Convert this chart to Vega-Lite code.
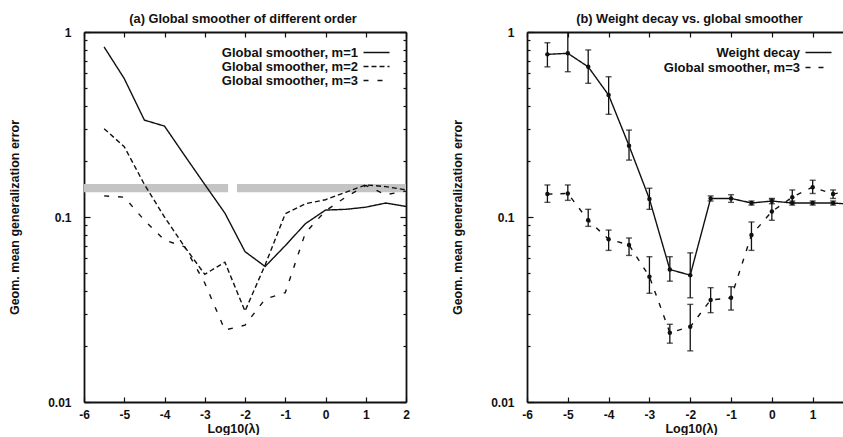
{
  "$schema": "https://vega.github.io/schema/vega-lite/v6.json",
  "padding": {"left": 8, "top": 13, "right": 0, "bottom": 0},
  "datasets": {
    "band": [
      {"x1": -6, "x2": -2.42, "lo": 0.136, "hi": 0.151},
      {"x1": -2.2, "x2": 2, "lo": 0.136, "hi": 0.151}
    ],
    "a": [
      {"series": "Global smoother, m=1", "x": -5.5, "y": 0.83},
      {"series": "Global smoother, m=1", "x": -5, "y": 0.56},
      {"series": "Global smoother, m=1", "x": -4.5, "y": 0.334},
      {"series": "Global smoother, m=1", "x": -4, "y": 0.31},
      {"series": "Global smoother, m=1", "x": -3.5, "y": 0.215},
      {"series": "Global smoother, m=1", "x": -3, "y": 0.15},
      {"series": "Global smoother, m=1", "x": -2.5, "y": 0.105},
      {"series": "Global smoother, m=1", "x": -2, "y": 0.065},
      {"series": "Global smoother, m=1", "x": -1.5, "y": 0.054},
      {"series": "Global smoother, m=1", "x": -1, "y": 0.07},
      {"series": "Global smoother, m=1", "x": -0.5, "y": 0.092},
      {"series": "Global smoother, m=1", "x": 0, "y": 0.109},
      {"series": "Global smoother, m=1", "x": 0.5, "y": 0.11},
      {"series": "Global smoother, m=1", "x": 1, "y": 0.113},
      {"series": "Global smoother, m=1", "x": 1.5, "y": 0.119},
      {"series": "Global smoother, m=1", "x": 2, "y": 0.114},
      {"series": "Global smoother, m=2", "x": -5.5, "y": 0.3},
      {"series": "Global smoother, m=2", "x": -5, "y": 0.24},
      {"series": "Global smoother, m=2", "x": -4.5, "y": 0.15},
      {"series": "Global smoother, m=2", "x": -4, "y": 0.1},
      {"series": "Global smoother, m=2", "x": -3.5, "y": 0.069},
      {"series": "Global smoother, m=2", "x": -3, "y": 0.049},
      {"series": "Global smoother, m=2", "x": -2.5, "y": 0.057},
      {"series": "Global smoother, m=2", "x": -2, "y": 0.031},
      {"series": "Global smoother, m=2", "x": -1.5, "y": 0.055},
      {"series": "Global smoother, m=2", "x": -1, "y": 0.104},
      {"series": "Global smoother, m=2", "x": -0.5, "y": 0.118},
      {"series": "Global smoother, m=2", "x": 0, "y": 0.124},
      {"series": "Global smoother, m=2", "x": 0.5, "y": 0.136},
      {"series": "Global smoother, m=2", "x": 1, "y": 0.149},
      {"series": "Global smoother, m=2", "x": 1.5, "y": 0.146},
      {"series": "Global smoother, m=2", "x": 2, "y": 0.14},
      {"series": "Global smoother, m=3", "x": -5.5, "y": 0.13},
      {"series": "Global smoother, m=3", "x": -5, "y": 0.128},
      {"series": "Global smoother, m=3", "x": -4.5, "y": 0.096},
      {"series": "Global smoother, m=3", "x": -4, "y": 0.075},
      {"series": "Global smoother, m=3", "x": -3.5, "y": 0.069},
      {"series": "Global smoother, m=3", "x": -3, "y": 0.044},
      {"series": "Global smoother, m=3", "x": -2.5, "y": 0.0245},
      {"series": "Global smoother, m=3", "x": -2, "y": 0.026},
      {"series": "Global smoother, m=3", "x": -1.5, "y": 0.036},
      {"series": "Global smoother, m=3", "x": -1, "y": 0.039},
      {"series": "Global smoother, m=3", "x": -0.5, "y": 0.082},
      {"series": "Global smoother, m=3", "x": 0, "y": 0.108},
      {"series": "Global smoother, m=3", "x": 0.5, "y": 0.128},
      {"series": "Global smoother, m=3", "x": 1, "y": 0.148},
      {"series": "Global smoother, m=3", "x": 1.5, "y": 0.132},
      {"series": "Global smoother, m=3", "x": 2, "y": 0.138}
    ],
    "b": [
      {"series": "Weight decay", "x": -5.5, "y": 0.757, "lo": 0.648, "hi": 0.875},
      {"series": "Weight decay", "x": -5, "y": 0.767, "lo": 0.61, "hi": 1.0},
      {"series": "Weight decay", "x": -4.5, "y": 0.648, "lo": 0.528, "hi": 0.8},
      {"series": "Weight decay", "x": -4, "y": 0.456, "lo": 0.359, "hi": 0.573},
      {"series": "Weight decay", "x": -3.5, "y": 0.243, "lo": 0.203, "hi": 0.295},
      {"series": "Weight decay", "x": -3, "y": 0.125, "lo": 0.11, "hi": 0.143},
      {"series": "Weight decay", "x": -2.5, "y": 0.052, "lo": 0.045, "hi": 0.061},
      {"series": "Weight decay", "x": -2, "y": 0.0485, "lo": 0.0366, "hi": 0.064},
      {"series": "Weight decay", "x": -1.5, "y": 0.126, "lo": 0.122, "hi": 0.13},
      {"series": "Weight decay", "x": -1, "y": 0.126, "lo": 0.12, "hi": 0.132},
      {"series": "Weight decay", "x": -0.5, "y": 0.119, "lo": 0.116, "hi": 0.122},
      {"series": "Weight decay", "x": 0, "y": 0.122, "lo": 0.118, "hi": 0.126},
      {"series": "Weight decay", "x": 0.5, "y": 0.119, "lo": 0.116, "hi": 0.122},
      {"series": "Weight decay", "x": 1, "y": 0.119, "lo": 0.116, "hi": 0.122},
      {"series": "Weight decay", "x": 1.5, "y": 0.119, "lo": 0.116, "hi": 0.122},
      {"series": "Weight decay", "x": 2, "y": 0.117, "lo": 0.114, "hi": 0.12},
      {"series": "Global smoother, m=3", "x": -5.5, "y": 0.133, "lo": 0.12, "hi": 0.149},
      {"series": "Global smoother, m=3", "x": -5, "y": 0.134, "lo": 0.123, "hi": 0.149},
      {"series": "Global smoother, m=3", "x": -4.5, "y": 0.096, "lo": 0.089, "hi": 0.11},
      {"series": "Global smoother, m=3", "x": -4, "y": 0.0758, "lo": 0.066, "hi": 0.085},
      {"series": "Global smoother, m=3", "x": -3.5, "y": 0.0706, "lo": 0.062, "hi": 0.077},
      {"series": "Global smoother, m=3", "x": -3, "y": 0.0476, "lo": 0.0387, "hi": 0.061},
      {"series": "Global smoother, m=3", "x": -2.5, "y": 0.0237, "lo": 0.0208, "hi": 0.0263},
      {"series": "Global smoother, m=3", "x": -2, "y": 0.0255, "lo": 0.0189, "hi": 0.0337},
      {"series": "Global smoother, m=3", "x": -1.5, "y": 0.0356, "lo": 0.0304, "hi": 0.0415},
      {"series": "Global smoother, m=3", "x": -1, "y": 0.0366, "lo": 0.0314, "hi": 0.042},
      {"series": "Global smoother, m=3", "x": -0.5, "y": 0.08, "lo": 0.066, "hi": 0.094},
      {"series": "Global smoother, m=3", "x": 0, "y": 0.107, "lo": 0.096, "hi": 0.125},
      {"series": "Global smoother, m=3", "x": 0.5, "y": 0.128, "lo": 0.119, "hi": 0.14},
      {"series": "Global smoother, m=3", "x": 1, "y": 0.145, "lo": 0.134, "hi": 0.158},
      {"series": "Global smoother, m=3", "x": 1.5, "y": 0.133, "lo": 0.126, "hi": 0.14},
      {"series": "Global smoother, m=3", "x": 2, "y": 0.14, "lo": 0.133, "hi": 0.148}
    ]
  },
  "spacing": 41,
  "resolve": {"scale": {"strokeDash": "independent"}, "legend": {"strokeDash": "independent"}},
  "hconcat": [
    {
      "width": 322,
      "height": 370,
      "title": {"text": "(a) Global smoother of different order", "dx": -2, "offset": 0.01},
      "resolve": {"axis": {"x": "independent", "y": "independent"}},
      "layer": [
        {
          "data": {"name": "band"},
          "mark": {"type": "rect", "fill": "#c4c4c4"},
          "encoding": {
            "x": {"field": "x1", "type": "quantitative", "scale": {"domain": [-6, 2], "nice": false, "zero": false},
              "axis": {"orient": "bottom", "values": [-6, -5, -4, -3, -2, -1, 0, 1, 2], "labelExpr": "'' + datum.value", "tickSize": -5, "labelPadding": 12, "labelFlush": false, "labelOverlap": false, "title": "Log10(λ)", "titlePadding": 2, "titleX": 149, "titleFontSize": 12.5}},
            "x2": {"field": "x2"},
            "y": {"field": "lo", "type": "quantitative", "scale": {"type": "log", "domain": [0.01, 1], "nice": false},
              "axis": {"orient": "left", "values": [0.01, 0.02, 0.03, 0.04, 0.05, 0.06, 0.07, 0.08, 0.09, 0.1, 0.2, 0.3, 0.4, 0.5, 0.6, 0.7, 0.8, 0.9, 1],
                "labelExpr": "datum.value == 1 ? '1' : datum.value == 0.1 ? '0.1' : datum.value == 0.01 ? '0.01' : ''",
                "tickSize": {"condition": {"test": "datum.value == 1 || datum.value == 0.1 || datum.value == 0.01", "value": -6}, "value": -3},
                "labelPadding": 19, "labelFlush": false, "labelOverlap": false, "title": "Geom. mean generalization error", "titlePadding": 26, "titleFontSize": 12.5}},
            "y2": {"field": "hi"}
          }
        },
        {
          "data": {"name": "a"},
          "mark": {"type": "line", "color": "#111", "strokeWidth": 1.4},
          "encoding": {
            "x": {"field": "x", "type": "quantitative", "scale": {"domain": [-6, 2], "nice": false, "zero": false},
              "axis": {"orient": "top", "values": [-6, -5, -4, -3, -2, -1, 0, 1, 2], "labels": false, "tickSize": -5, "title": null}},
            "y": {"field": "y", "type": "quantitative", "scale": {"type": "log", "domain": [0.01, 1], "nice": false},
              "axis": {"orient": "right", "values": [0.01, 0.02, 0.03, 0.04, 0.05, 0.06, 0.07, 0.08, 0.09, 0.1, 0.2, 0.3, 0.4, 0.5, 0.6, 0.7, 0.8, 0.9, 1], "labels": false,
                "tickSize": {"condition": {"test": "datum.value == 1 || datum.value == 0.1 || datum.value == 0.01", "value": -6}, "value": -3}, "title": null}},
            "strokeDash": {"field": "series", "type": "nominal",
              "scale": {"domain": ["Global smoother, m=1", "Global smoother, m=2", "Global smoother, m=3"], "range": [[1, 0], [5, 3], [5, 9]]},
              "legend": {"orient": "none", "legendX": 286, "legendY": 14, "title": null, "symbolType": "M-2.6,0H2.6", "symbolSize": 100, "symbolStrokeColor": "#111", "symbolStrokeWidth": 1.4, "symbolFillColor": "transparent", "labelAlign": "right", "labelOffset": -25, "labelFontSize": 13, "labelFontWeight": "bold", "labelFont": "Liberation Sans", "labelColor": "#111", "labelLimit": 400, "rowPadding": -1.5, "padding": 0}}
          }
        }
      ]
    },
    {
      "width": 322,
      "height": 370,
      "title": {"text": "(b) Weight decay vs. global smoother", "dx": 1.5, "offset": 0.01},
      "resolve": {"axis": {"x": "independent", "y": "independent"}},
      "layer": [
        {
          "data": {"name": "b"},
          "mark": {"type": "line", "color": "#111", "strokeWidth": 1.4, "clip": true},
          "encoding": {
            "x": {"field": "x", "type": "quantitative", "scale": {"domain": [-6, 1.89], "nice": false, "zero": false},
              "axis": {"orient": "bottom", "values": [-6, -5, -4, -3, -2, -1, 0, 1], "labelExpr": "'' + datum.value", "tickSize": -5, "labelPadding": 12, "labelFlush": false, "labelOverlap": false, "title": "Log10(λ)", "titlePadding": 2, "titleX": 164, "titleFontSize": 12.5}},
            "y": {"field": "y", "type": "quantitative", "scale": {"type": "log", "domain": [0.01, 1], "nice": false},
              "axis": {"orient": "left", "values": [0.01, 0.02, 0.03, 0.04, 0.05, 0.06, 0.07, 0.08, 0.09, 0.1, 0.2, 0.3, 0.4, 0.5, 0.6, 0.7, 0.8, 0.9, 1],
                "labelExpr": "datum.value == 1 ? '1' : datum.value == 0.1 ? '0.1' : datum.value == 0.01 ? '0.01' : ''",
                "tickSize": {"condition": {"test": "datum.value == 1 || datum.value == 0.1 || datum.value == 0.01", "value": -6}, "value": -3},
                "labelPadding": 19, "labelFlush": false, "labelOverlap": false, "title": "Geom. mean generalization error", "titlePadding": 26, "titleFontSize": 12.5}},
            "strokeDash": {"field": "series", "type": "nominal",
              "scale": {"domain": ["Weight decay", "Global smoother, m=3"], "range": [[1, 0], [5, 8]]},
              "legend": {"orient": "none", "legendX": 285, "legendY": 14, "title": null, "symbolType": "M-2.6,0H2.6", "symbolSize": 100, "symbolStrokeColor": "#111", "symbolStrokeWidth": 1.4, "symbolFillColor": "transparent", "labelAlign": "right", "labelOffset": -25, "labelFontSize": 13, "labelFontWeight": "bold", "labelFont": "Liberation Sans", "labelColor": "#111", "labelLimit": 400, "rowPadding": 1, "padding": 0}}
          }
        },
        {
          "data": {"name": "b"},
          "mark": {"type": "errorbar", "clip": true, "color": "#111", "ticks": {"size": 6, "thickness": 1.4, "color": "#111"}, "rule": {"strokeWidth": 1.3, "color": "#111"}},
          "encoding": {
            "x": {"field": "x", "type": "quantitative", "scale": {"domain": [-6, 1.89], "nice": false, "zero": false},
              "axis": {"orient": "top", "values": [-6, -5, -4, -3, -2, -1, 0, 1], "labels": false, "tickSize": -5, "title": null}},
            "y": {"field": "lo", "type": "quantitative", "scale": {"type": "log", "domain": [0.01, 1], "nice": false}, "axis": null},
            "y2": {"field": "hi"}
          }
        },
        {
          "data": {"name": "b"},
          "mark": {"type": "point", "filled": true, "size": 20, "color": "#111", "opacity": 1, "clip": true},
          "encoding": {
            "x": {"field": "x", "type": "quantitative", "scale": {"domain": [-6, 1.89], "nice": false, "zero": false}, "axis": null},
            "y": {"field": "y", "type": "quantitative", "scale": {"type": "log", "domain": [0.01, 1], "nice": false}, "axis": null}
          }
        }
      ]
    }
  ],
  "config": {
    "view": {"stroke": null},
    "font": "Liberation Sans",
    "title": {"fontSize": 12.8, "fontWeight": "bold", "font": "Liberation Sans", "color": "#111", "anchor": "middle"},
    "axis": {"domainColor": "#111", "domainWidth": 1.8, "tickColor": "#111", "tickWidth": 1.2, "grid": false, "labelFont": "Liberation Sans", "labelFontSize": 12, "labelFontWeight": "bold", "labelColor": "#111", "titleFont": "Liberation Sans", "titleFontSize": 12, "titleFontWeight": "bold", "titleColor": "#111"}
  }
}
